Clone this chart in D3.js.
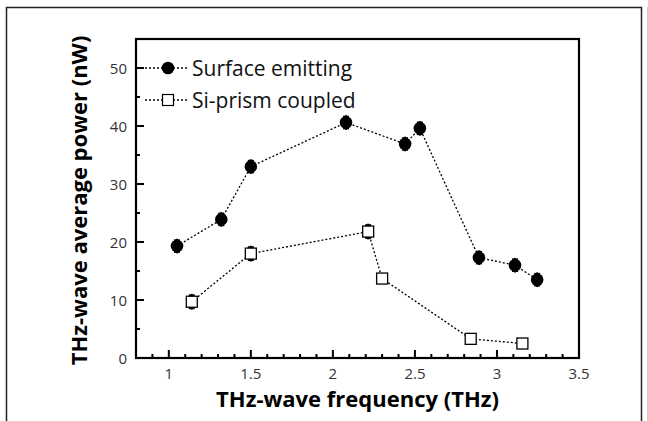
<!DOCTYPE html>
<html>
<head>
<meta charset="utf-8">
<script src="https://cdn.jsdelivr.net/npm/d3@7"></script>
<style>
  body { margin: 0; background: #fff; }
  svg { display: block; font-family: "Open Sans", "Noto Sans", sans-serif; }
</style>
</head>
<body>
<svg id="chart" width="648" height="421"></svg>
<script>
// data
const surfaceFreq = [1.05, 1.32, 1.50, 2.08, 2.44, 2.53, 2.89, 3.11, 3.245]
const surfacePower = [19.3, 23.9, 33.0, 40.6, 36.9, 39.6, 17.3, 16.0, 13.5]
const surfaceErr = [1.0, 1.0, 1.0, 1.0, 1.0, 1.0, 1.0, 1.0, 1.0]
const prismFreq = [1.14, 1.50, 2.215, 2.30, 2.84, 3.155]
const prismPower = [9.7, 18.0, 21.8, 13.7, 3.3, 2.5]
const prismErr = [1.1, 1.1, 1.1, 0.6, 0.3, 0.3]
const xTicks = [1, 1.5, 2, 2.5, 3, 3.5]
const yTicks = [0, 10, 20, 30, 40, 50]
const seriesNames = ['Surface emitting', 'Si-prism coupled']

const svg = d3.select('#chart')
const margin = {left: 136, right: 69, top: 39, bottom: 63}
const W = 648, H = 421

const x = d3.scaleLinear().domain([0.8, 3.5]).range([margin.left, W - margin.right])
const y = d3.scaleLinear().domain([0, 55]).range([H - margin.bottom, margin.top])

// outer picture frame
svg.append('path')
  .attr('d', `M6.5,421 V7.5 H641.5 V421`)
  .attr('fill', 'none').attr('stroke', '#222').attr('stroke-width', 1.5)
svg.append('line').attr('x1', 647.5).attr('x2', 647.5).attr('y1', 7).attr('y2', 421)
  .attr('stroke', '#ccc').attr('stroke-width', 1)

// ticks (inward)
const tickG = svg.append('g').attr('stroke', '#000').attr('stroke-width', 2)
d3.range(0.9, 3.45, 0.1).forEach(v => {
  const major = Math.abs(v * 2 - Math.round(v * 2)) < 1e-6
  tickG.append('line').attr('x1', x(v)).attr('x2', x(v))
    .attr('y1', y(0)).attr('y2', y(0) - (major ? 8 : 4))
})
d3.range(5, 55, 5).forEach(v => {
  const major = v % 10 === 0
  tickG.append('line').attr('x1', x(0.8)).attr('x2', x(0.8) + (major ? 8 : 4))
    .attr('y1', y(v)).attr('y2', y(v))
})

// tick labels
svg.append('g').selectAll('text').data(xTicks).join('text')
  .attr('x', d => x(d)).attr('y', 379).attr('text-anchor', 'middle')
  .attr('font-size', 15).attr('fill', '#333').text(d => d)
svg.append('g').selectAll('text').data(yTicks).join('text')
  .attr('x', 127).attr('y', d => y(d) + 5.5).attr('text-anchor', 'end')
  .attr('font-size', 15).attr('fill', '#333').text(d => d)

// axis titles
svg.append('text').attr('x', x(2.15)).attr('y', 407).attr('text-anchor', 'middle')
  .attr('font-size', 22).attr('font-weight', 'bold').text('THz-wave frequency (THz)')
svg.append('text').attr('transform', `translate(87,${(y(0) + y(55)) / 2 + 2}) rotate(-90)`)
  .attr('text-anchor', 'middle').attr('font-size', 22).attr('font-weight', 'bold')
  .text('THz-wave average power (nW)')

const line = d3.line().x(d => x(d[0])).y(d => y(d[1]))
const surface = surfaceFreq.map((f, i) => [f, surfacePower[i], surfaceErr[i]])
const prism = prismFreq.map((f, i) => [f, prismPower[i], prismErr[i]])

const dotted = sel => sel.attr('fill', 'none').attr('stroke', '#000')
  .attr('stroke-width', 1.3).attr('stroke-dasharray', '2,2')

svg.append('path').datum(surface).attr('d', line).call(dotted)
svg.append('path').datum(prism).attr('d', line).call(dotted)

// error bars
const errG = svg.append('g').attr('stroke', '#000').attr('stroke-width', 2)
;[...surface, ...prism].forEach(d => {
  const err = d[2]
  errG.append('line').attr('x1', x(d[0])).attr('x2', x(d[0]))
    .attr('y1', y(d[1] - err) + 1.5).attr('y2', y(d[1] + err) - 1.5)
  ;[d[1] - err, d[1] + err].forEach(v => {
    errG.append('line').attr('x1', x(d[0]) - 3).attr('x2', x(d[0]) + 3)
      .attr('y1', y(v)).attr('y2', y(v))
  })
})

// markers
svg.append('g').selectAll('circle').data(surface).join('circle')
  .attr('cx', d => x(d[0])).attr('cy', d => y(d[1])).attr('r', 6.3).attr('fill', '#000')
svg.append('g').selectAll('rect').data(prism).join('rect')
  .attr('x', d => x(d[0]) - 5.5).attr('y', d => y(d[1]) - 5.5)
  .attr('width', 11).attr('height', 11)
  .attr('fill', '#fff').attr('stroke', '#000').attr('stroke-width', 1.3)

// frame drawn on top
svg.append('rect').attr('x', x(0.8)).attr('y', y(55))
  .attr('width', x(3.5) - x(0.8)).attr('height', y(0) - y(55))
  .attr('fill', 'none').attr('stroke', '#000').attr('stroke-width', 2.2)

// legend
const legend = svg.append('g')
seriesNames.forEach((name, i) => {
  const ly = 68 + i * 32
  legend.append('line').attr('x1', 145).attr('x2', 189).attr('y1', ly).attr('y2', ly).call(dotted)
  if (i === 0) {
    legend.append('circle').attr('cx', 168).attr('cy', ly).attr('r', 6.3).attr('fill', '#000')
  } else {
    legend.append('rect').attr('x', 162.5).attr('y', ly - 5.5).attr('width', 11).attr('height', 11)
      .attr('fill', '#fff').attr('stroke', '#000').attr('stroke-width', 1.2)
  }
  legend.append('text').attr('x', 192).attr('y', ly + 7.5).attr('font-size', 21)
    .attr('fill', '#111').text(name)
})
</script>
</body>
</html>
